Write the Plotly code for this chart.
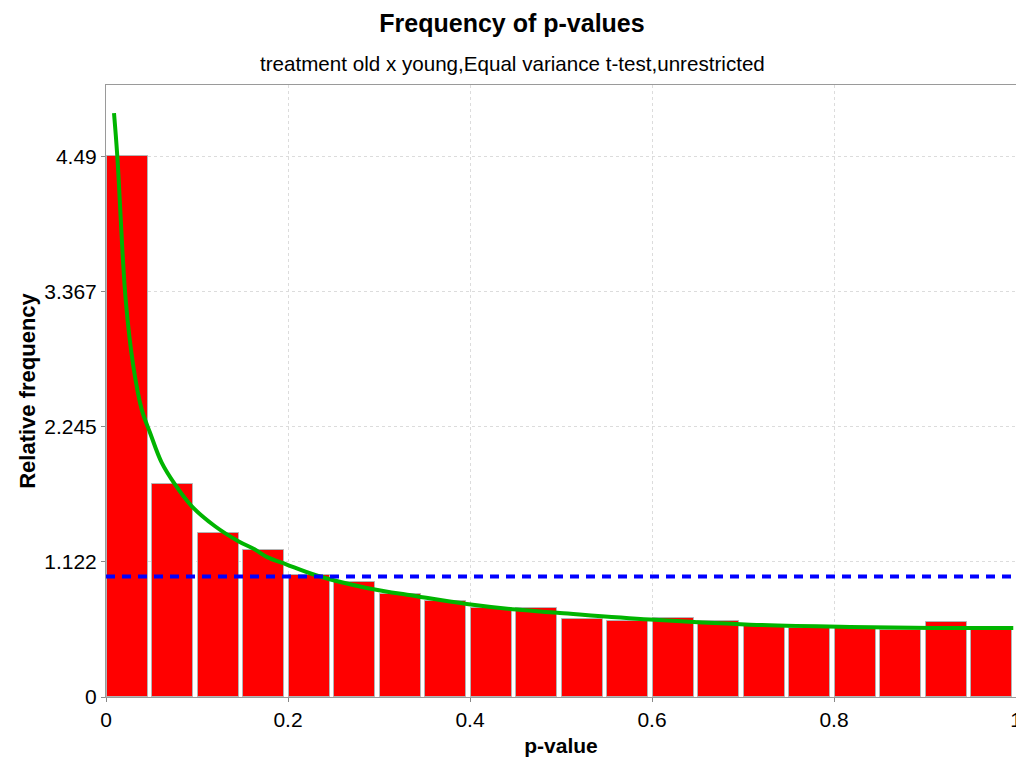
import plotly.graph_objects as go

# histogram of p-values (20 bins of width 0.05), relative frequency
bin_left = [0.00, 0.05, 0.10, 0.15, 0.20, 0.25, 0.30, 0.35, 0.40, 0.45,
            0.50, 0.55, 0.60, 0.65, 0.70, 0.75, 0.80, 0.85, 0.90, 0.95]
rel_freq = [4.49, 1.771, 1.364, 1.222, 1.011, 0.953, 0.853, 0.798, 0.740, 0.737,
            0.646, 0.632, 0.659, 0.634, 0.588, 0.576, 0.571, 0.554, 0.621, 0.560]

# fitted density curve
fit_x = [0.0088, 0.0124, 0.0216, 0.030, 0.0392, 0.0484, 0.0612, 0.0758,
         0.0941, 0.1198, 0.1454, 0.1637, 0.1766, 0.1986, 0.2315, 0.2865, 0.3414,
         0.3964, 0.4513, 0.4989, 0.5978, 0.7077, 0.8176, 0.9091, 0.997]
fit_y = [4.85, 4.495, 3.303, 2.749, 2.389, 2.195, 1.946, 1.765,
         1.585, 1.418, 1.294, 1.225, 1.164, 1.100, 1.009, 0.906, 0.837,
         0.773, 0.726, 0.698, 0.643, 0.601, 0.582, 0.574, 0.574]

# uniform reference line
uniform_x = [0.0, 1.0]
uniform_y = [1.0, 1.0]

y_ticks = [0, 1.122, 2.245, 3.367, 4.49]
y_tick_text = ["0", "1.122", "2.245", "3.367", "4.49"]
x_ticks = [0, 0.2, 0.4, 0.6, 0.8, 1.0]
x_tick_text = ["0", "0.2", "0.4", "0.6", "0.8", "1"]

fig = go.Figure()

fig.add_trace(go.Bar(
    x=bin_left, y=rel_freq, width=0.045, offset=0.0008,
    marker=dict(color="#ff0000", line=dict(color="#b4b4b4", width=1)),
    showlegend=False, name="p-values"
))

fig.add_trace(go.Scatter(
    x=fit_x, y=fit_y, mode="lines", line=dict(color="#00b400", width=4, shape="spline"),
    showlegend=False, name="fit"
))

fig.add_trace(go.Scatter(
    x=uniform_x, y=uniform_y, mode="lines",
    line=dict(color="#0000ff", width=4, dash="9px,7px"),
    showlegend=False, name="uniform"
))

axis_font = dict(family="Liberation Sans, Arial, sans-serif", size=21, color="black")

# the page body adds an 8px offset, so the figure is made smaller to fit the window
fig.update_layout(
    width=1016, height=752,
    margin=dict(l=98, r=8, t=77, b=63),
    paper_bgcolor="white", plot_bgcolor="white",
    font=dict(family="Liberation Sans, Arial, sans-serif", color="black"),
    title=dict(text="<b>Frequency of p-values</b>", x=504 / 1016, xanchor="center",
               y=1 - 15 / 752, yanchor="middle", yref="container",
               font=dict(size=25, color="black")),
    annotations=[dict(
        text="treatment old x young,Equal variance t-test,unrestricted",
        xref="paper", yref="paper", x=(512 - 106) / 910, y=(697 - 64) / 612,
        xanchor="center", yanchor="middle", showarrow=False,
        font=dict(size=20.6, color="black")
    )],
    bargap=0,
    xaxis=dict(
        range=[0, 1], tickvals=x_ticks, ticktext=x_tick_text, automargin=False,
        tickfont=axis_font, ticks="outside", ticklen=4, tickcolor="#888888",
        ticklabeloverflow="allow",
        showline=True, linecolor="#9a9a9a", linewidth=1, mirror=True,
        showgrid=True, gridcolor="#dcdcdc", gridwidth=1, griddash="3px,3px",
        zeroline=False,
        title=dict(text="<b>p-value</b>", font=dict(size=21, color="black"), standoff=8),
    ),
    yaxis=dict(
        range=[0, 5.083], tickvals=y_ticks, ticktext=y_tick_text, automargin=False,
        tickfont=axis_font, ticks="outside", ticklen=4, tickcolor="#888888",
        showline=True, linecolor="#9a9a9a", linewidth=1, mirror=True,
        showgrid=True, gridcolor="#dcdcdc", gridwidth=1, griddash="3px,3px",
        zeroline=False,
        title=dict(text="<b>Relative frequency</b>", font=dict(size=22, color="black"), standoff=2),
    ),
)

fig.write_html("out.html")
